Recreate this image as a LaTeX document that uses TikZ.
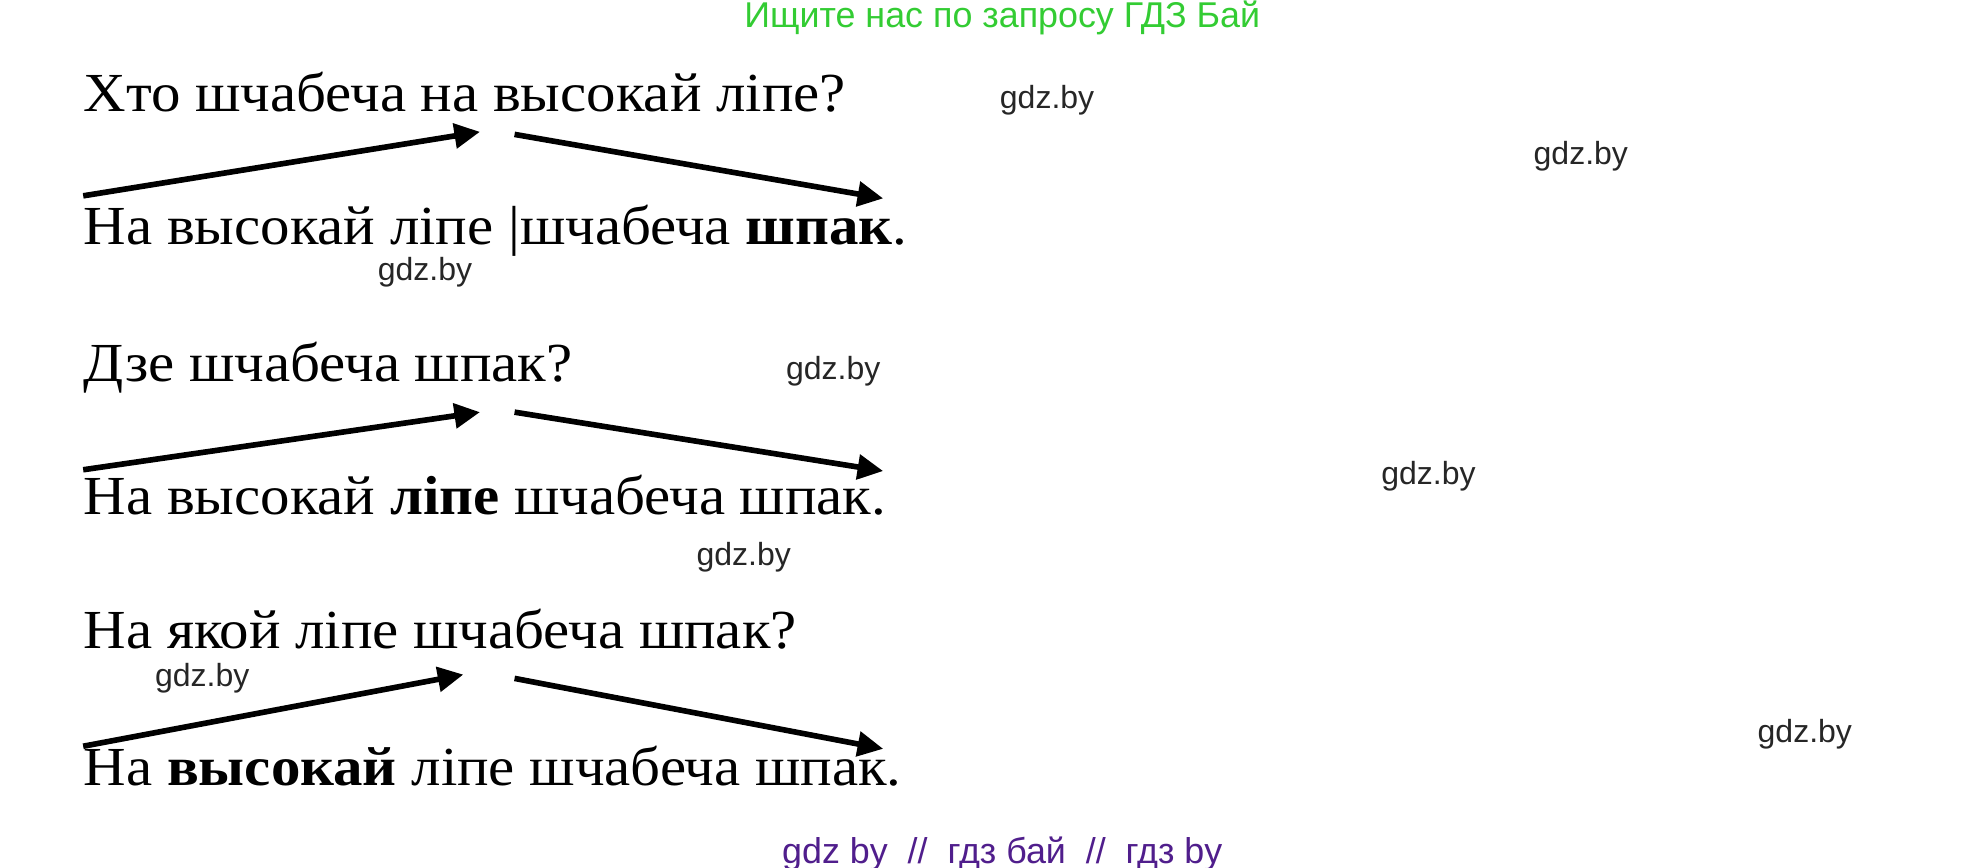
\documentclass[tikz,border=0pt]{standalone}
\usepackage{fontspec}
\setmainfont{Liberation Serif}[FakeStretch=1.07]
\newfontfamily\wmfont{Liberation Sans}
\usetikzlibrary{arrows.meta}
\definecolor{hdrgreen}{RGB}{51,204,51}
\definecolor{ftrviolet}{RGB}{80,30,140}

\begin{document}
\begin{tikzpicture}[x=0.5pt, y=-0.5pt,
  line/.style={anchor=base west, inner sep=0pt, font=\fontsize{21.5}{26}\selectfont},
  wm/.style={inner sep=0pt, font=\wmfont\fontsize{12.5}{14}\selectfont, text=black!85},
  arr/.style={line width=2.2pt, -{Triangle[length=10pt,width=9.5pt]}}]
\useasboundingbox (0,0) rectangle (1550,678);
% SHAPKA
\node[inner sep=0pt, font=\wmfont\fontsize{14}{16}\selectfont, text=hdrgreen] (hdr) at (783,14) {Ищите нас по запросу ГДЗ Бай};
% PYTANNE 1
\node[line] (q1) at (65,87) {Хто шчабеча на высокай ліпе?};
\node[line] (a1) at (65,191) {На высокай ліпе |шчабеча \textbf{шпак}.};
\coordinate (s1a) at (65,153);
\coordinate (t1a) at (375,103);
\coordinate (s1b) at (402,105);
\coordinate (t1b) at (690,155);
\draw[arr] (s1a) -- (t1a);
\draw[arr] (s1b) -- (t1b);
% PYTANNE 2
\node[line] (q2) at (65,298) {Дзе шчабеча шпак?};
\node[line] (a2) at (65,402) {На высокай \textbf{ліпе} шчабеча шпак.};
\coordinate (s2a) at (65,367);
\coordinate (t2a) at (375,322);
\coordinate (s2b) at (402,322);
\coordinate (t2b) at (690,368);
\draw[arr] (s2a) -- (t2a);
\draw[arr] (s2b) -- (t2b);
% PYTANNE 3
\node[line] (q3) at (65,507) {На якой ліпе шчабеча шпак?};
\node[line] (a3) at (65,614) {На \textbf{высокай} ліпе шчабеча шпак.};
\coordinate (s3a) at (65,583);
\coordinate (t3a) at (362,527);
\coordinate (s3b) at (402,530);
\coordinate (t3b) at (690,585);
\draw[arr] (s3a) -- (t3a);
\draw[arr] (s3b) -- (t3b);
% VADZYANYYA ZNAKI
\node[wm] (w1) at (818,78) {gdz.by};
\node[wm] (w2) at (1235,122) {gdz.by};
\node[wm] (w3) at (332,213) {gdz.by};
\node[wm] (w4) at (651,290) {gdz.by};
\node[wm] (w5) at (1116,372) {gdz.by};
\node[wm] (w6) at (581,435) {gdz.by};
\node[wm] (w7) at (158,530) {gdz.by};
\node[wm] (w8) at (1410,574) {gdz.by};
% NIZ
\node[inner sep=0pt, font=\wmfont\fontsize{14}{16}\selectfont, text=ftrviolet] (ftr) at (783,667) {gdz by \ // \ гдз бай \ // \ гдз by};
\end{tikzpicture}
\end{document}
